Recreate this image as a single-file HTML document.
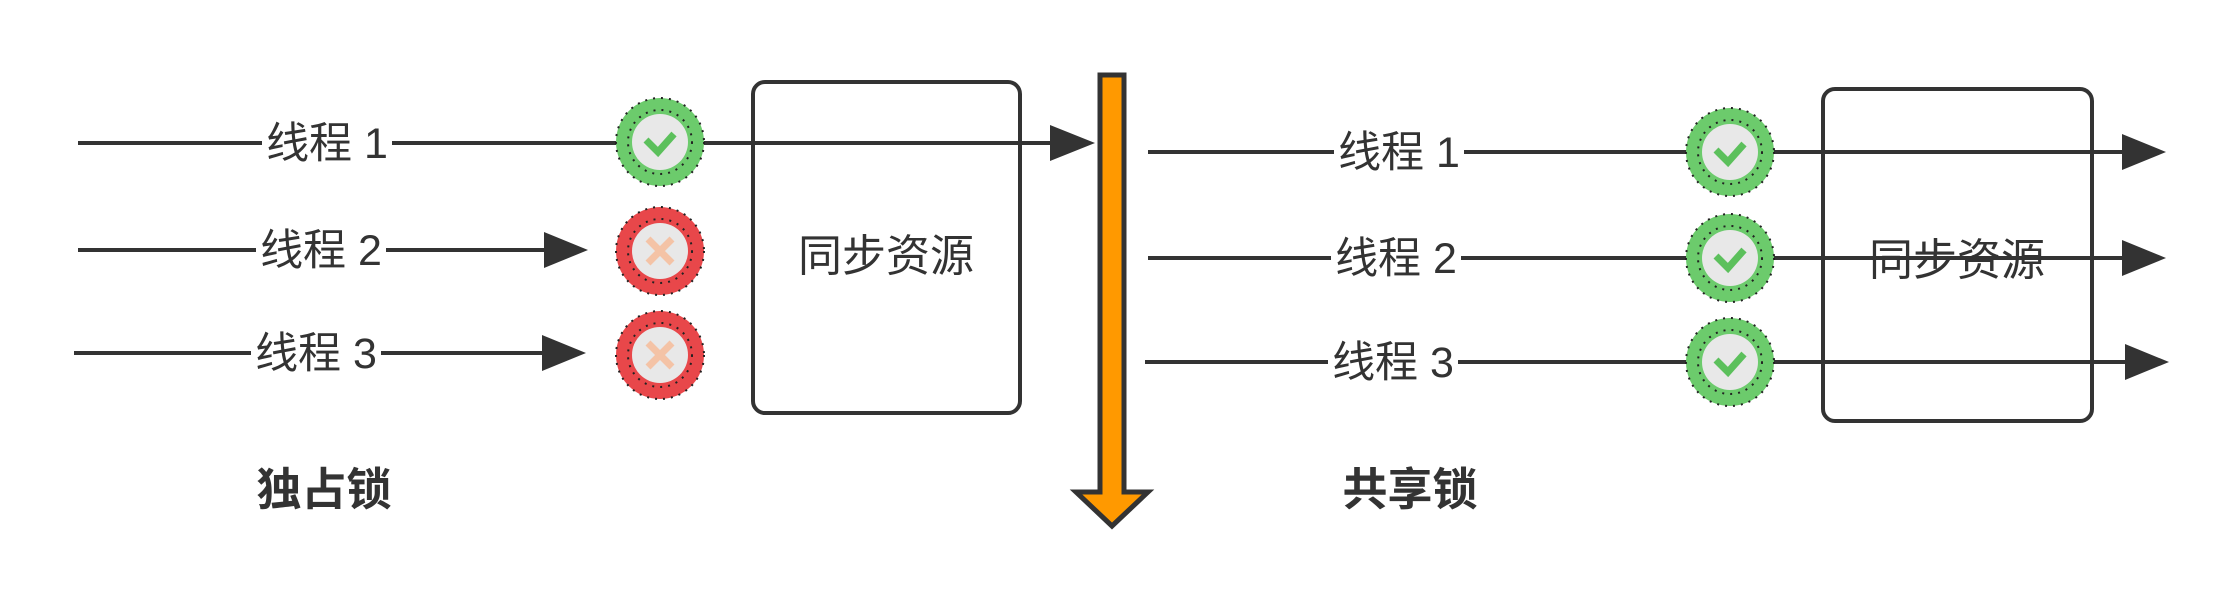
<!DOCTYPE html>
<html><head><meta charset="utf-8"><style>html,body{margin:0;padding:0;background:#fff;}svg{display:block}</style></head>
<body>
<svg width="2226" height="600" viewBox="0 0 2226 600" xmlns="http://www.w3.org/2000/svg" font-family="Liberation Sans, Noto Sans CJK SC, sans-serif">
<defs>
<g id="ok">
<circle r="44" fill="#6ccb6c"/>
<circle r="44" fill="none" stroke="#222" stroke-width="2" stroke-dasharray="2 6"/>
<circle r="28" fill="#e8e8e8"/>
<circle r="32" fill="none" stroke="#222" stroke-width="2" stroke-dasharray="2 6"/>
<path d="M-14 -2 L-2 10 L14 -8" fill="none" stroke="#5cc05c" stroke-width="7"/>
</g>
<g id="no">
<circle r="44" fill="#e8474a"/>
<circle r="44" fill="none" stroke="#222" stroke-width="2" stroke-dasharray="2 6"/>
<circle r="28" fill="#e8e8e8"/>
<circle r="32" fill="none" stroke="#222" stroke-width="2" stroke-dasharray="2 6"/>
<path d="M-12 -12 L12 12 M12 -12 L-12 12" stroke="#f4c3a6" stroke-width="7"/>
</g>
</defs>
<g stroke="#333" stroke-width="4" fill="none">
<rect x="753" y="82" width="267" height="331" rx="12"/>
<rect x="1823" y="89" width="269" height="332" rx="12"/>
<line x1="78" y1="143" x2="1052" y2="143"/>
<line x1="78" y1="250" x2="546" y2="250"/>
<line x1="74" y1="353" x2="544" y2="353"/>
<line x1="1148" y1="152" x2="2125" y2="152"/>
<line x1="1148" y1="258" x2="2125" y2="258"/>
<line x1="1145" y1="362" x2="2128" y2="362"/>
</g>
<g fill="#333">
<polygon points="1050,125 1095,143 1050,161"/>
<polygon points="544,232 588,250 544,268"/>
<polygon points="542,335 586,353 542,371"/>
<polygon points="2122,134 2166,152 2122,170"/>
<polygon points="2122,240 2166,258 2122,276"/>
<polygon points="2125,344 2169,362 2125,380"/>
</g>
<polygon points="1100,75 1124,75 1124,492 1148,492 1112,526 1076,492 1100,492" fill="#f90" stroke="#333" stroke-width="5"/>
<g font-size="43" fill="#333" text-anchor="middle">
<rect x="262" y="118" width="130" height="50" fill="#fff"/>
<rect x="256" y="225" width="130" height="50" fill="#fff"/>
<rect x="251" y="328" width="130" height="50" fill="#fff"/>
<rect x="1334" y="127" width="130" height="50" fill="#fff"/>
<rect x="1331" y="233" width="130" height="50" fill="#fff"/>
<rect x="1328" y="337" width="130" height="50" fill="#fff"/>
<text x="327" y="158">线程 1</text>
<text x="321" y="265">线程 2</text>
<text x="316" y="368">线程 3</text>
<text x="1399" y="167">线程 1</text>
<text x="1396" y="273">线程 2</text>
<text x="1393" y="377">线程 3</text>
<text x="886" y="271" font-size="44">同步资源</text>
<text x="1957" y="275" font-size="44">同步资源</text>
<text x="324" y="505" font-weight="bold" font-size="45">独占锁</text>
<text x="1410" y="505" font-weight="bold" font-size="45">共享锁</text>
</g>
<use href="#ok" x="660" y="142"/>
<use href="#no" x="660" y="251"/>
<use href="#no" x="660" y="355"/>
<use href="#ok" x="1730" y="152"/>
<use href="#ok" x="1730" y="258"/>
<use href="#ok" x="1730" y="362"/>
</svg>
</body></html>
